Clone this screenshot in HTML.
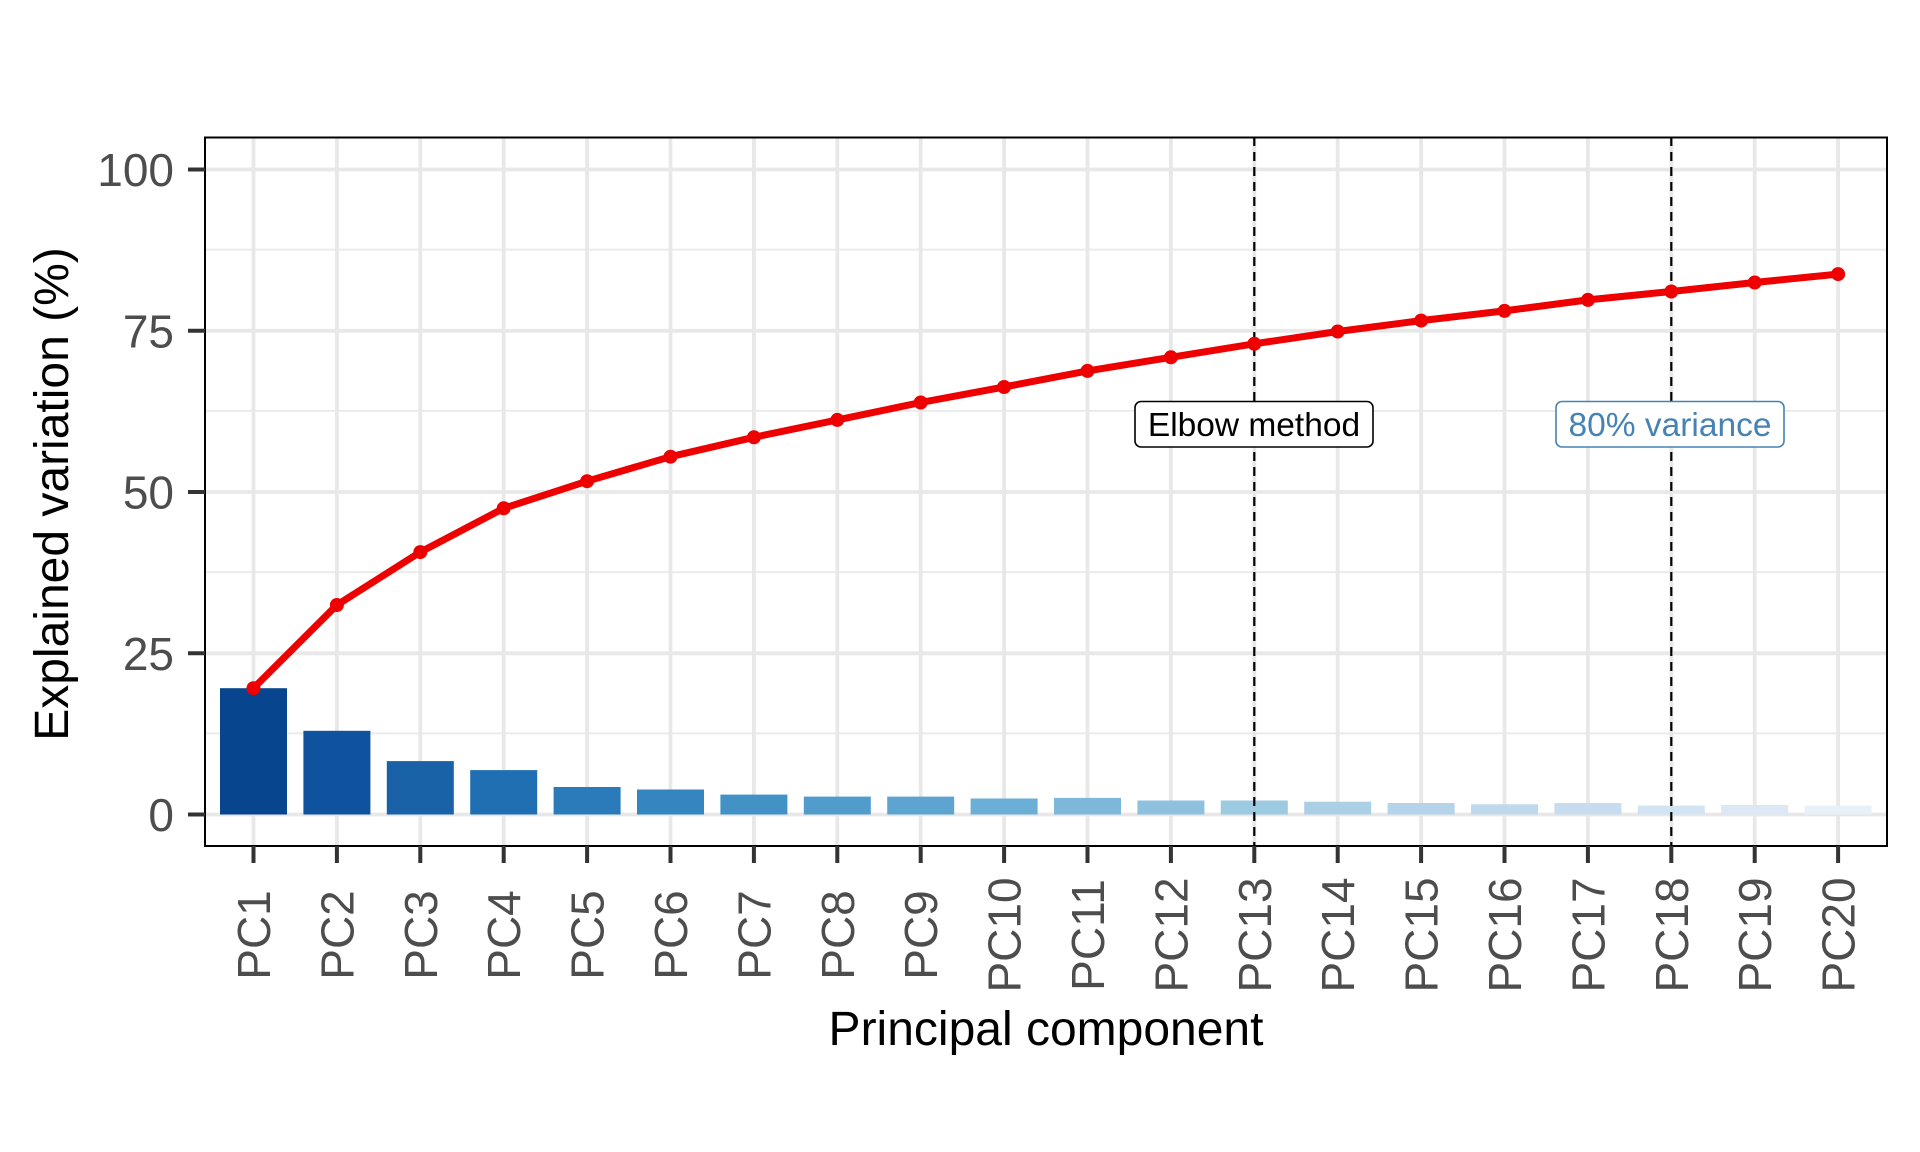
<!DOCTYPE html>
<html><head><meta charset="utf-8"><style>html,body{margin:0;padding:0;background:#fff}svg{display:block}</style></head><body>
<svg width="1920" height="1152" viewBox="0 0 1920 1152" xmlns="http://www.w3.org/2000/svg" font-family="Liberation Sans, Arial, sans-serif">
<rect width="1920" height="1152" fill="#fff"/>
<g stroke="#ebebeb" stroke-width="2">
<line x1="205" x2="1887" y1="733.4" y2="733.4"/><line x1="205" x2="1887" y1="572.1" y2="572.1"/><line x1="205" x2="1887" y1="410.9" y2="410.9"/><line x1="205" x2="1887" y1="249.6" y2="249.6"/>
</g>
<g stroke="#e8e8e8" stroke-width="3.8">
<line x1="205" x2="1887" y1="814.5" y2="814.5"/><line x1="205" x2="1887" y1="653.3" y2="653.3"/><line x1="205" x2="1887" y1="492" y2="492"/><line x1="205" x2="1887" y1="330.8" y2="330.8"/><line x1="205" x2="1887" y1="169.5" y2="169.5"/>
<line x1="253.5" x2="253.5" y1="137" y2="846"/><line x1="336.9" x2="336.9" y1="137" y2="846"/><line x1="420.3" x2="420.3" y1="137" y2="846"/><line x1="503.7" x2="503.7" y1="137" y2="846"/><line x1="587.1" x2="587.1" y1="137" y2="846"/><line x1="670.5" x2="670.5" y1="137" y2="846"/><line x1="753.9" x2="753.9" y1="137" y2="846"/><line x1="837.3" x2="837.3" y1="137" y2="846"/><line x1="920.7" x2="920.7" y1="137" y2="846"/><line x1="1004.1" x2="1004.1" y1="137" y2="846"/><line x1="1087.5" x2="1087.5" y1="137" y2="846"/><line x1="1170.9" x2="1170.9" y1="137" y2="846"/><line x1="1254.3" x2="1254.3" y1="137" y2="846"/><line x1="1337.7" x2="1337.7" y1="137" y2="846"/><line x1="1421.1" x2="1421.1" y1="137" y2="846"/><line x1="1504.5" x2="1504.5" y1="137" y2="846"/><line x1="1587.9" x2="1587.9" y1="137" y2="846"/><line x1="1671.3" x2="1671.3" y1="137" y2="846"/><line x1="1754.7" x2="1754.7" y1="137" y2="846"/><line x1="1838.1" x2="1838.1" y1="137" y2="846"/>
</g>
<g>
<rect x="220" y="688.2" width="67" height="126.3" fill="#08458f"/>
<rect x="303.4" y="730.8" width="67" height="83.7" fill="#0f529e"/>
<rect x="386.8" y="761.1" width="67" height="53.4" fill="#1a62a8"/>
<rect x="470.2" y="770.1" width="67" height="44.4" fill="#216fb3"/>
<rect x="553.6" y="787" width="67" height="27.5" fill="#2b7bba"/>
<rect x="637" y="789.5" width="67" height="25" fill="#3586c0"/>
<rect x="720.4" y="794.6" width="67" height="19.9" fill="#4292c6"/>
<rect x="803.8" y="796.6" width="67" height="17.9" fill="#519ccb"/>
<rect x="887.2" y="796.6" width="67" height="17.9" fill="#5da5d0"/>
<rect x="970.6" y="798.5" width="67" height="16" fill="#6baed6"/>
<rect x="1054" y="797.9" width="67" height="16.6" fill="#7db8da"/>
<rect x="1137.4" y="800.5" width="67" height="14" fill="#8dc1dd"/>
<rect x="1220.8" y="800.5" width="67" height="14" fill="#9ccae1"/>
<rect x="1304.2" y="801.7" width="67" height="12.8" fill="#abd0e6"/>
<rect x="1387.6" y="803" width="67" height="11.5" fill="#b5d4e9"/>
<rect x="1471" y="804.3" width="67" height="10.2" fill="#bfd8ed"/>
<rect x="1554.4" y="803" width="67" height="11.5" fill="#c8dcf0"/>
<rect x="1637.8" y="805.6" width="67" height="8.9" fill="#d2e3f3"/>
<rect x="1721.2" y="805" width="67" height="9.5" fill="#dde8f6"/>
<rect x="1804.6" y="805.6" width="67" height="8.9" fill="#e8f0f9"/>
</g>
<g stroke="#000" stroke-width="2.2" stroke-dasharray="9,6">
<line x1="1254.3" x2="1254.3" y1="137" y2="846"/><line x1="1671.3" x2="1671.3" y1="137" y2="846"/>
</g>
<polyline fill="none" stroke="#ee0000" stroke-width="7" stroke-linejoin="round" points="253.5,688.2 336.9,605 420.3,552.1 503.7,508.3 587.1,481.2 670.5,456.7 753.9,437.3 837.3,419.9 920.7,402.5 1004.1,387 1087.5,370.9 1170.9,357.3 1254.3,343.8 1337.7,331.5 1421.1,320.6 1504.5,310.9 1587.9,299.9 1671.3,291.5 1754.7,282.5 1838.1,274.1"/>
<g fill="#ee0000">
<circle cx="253.5" cy="688.2" r="7"/><circle cx="336.9" cy="605" r="7"/><circle cx="420.3" cy="552.1" r="7"/><circle cx="503.7" cy="508.3" r="7"/><circle cx="587.1" cy="481.2" r="7"/><circle cx="670.5" cy="456.7" r="7"/><circle cx="753.9" cy="437.3" r="7"/><circle cx="837.3" cy="419.9" r="7"/><circle cx="920.7" cy="402.5" r="7"/><circle cx="1004.1" cy="387" r="7"/><circle cx="1087.5" cy="370.9" r="7"/><circle cx="1170.9" cy="357.3" r="7"/><circle cx="1254.3" cy="343.8" r="7"/><circle cx="1337.7" cy="331.5" r="7"/><circle cx="1421.1" cy="320.6" r="7"/><circle cx="1504.5" cy="310.9" r="7"/><circle cx="1587.9" cy="299.9" r="7"/><circle cx="1671.3" cy="291.5" r="7"/><circle cx="1754.7" cy="282.5" r="7"/><circle cx="1838.1" cy="274.1" r="7"/>
</g>
<rect x="1135" y="401.5" width="238" height="45.5" rx="6" fill="#fff" stroke="#000" stroke-width="1.6"/>
<text x="1254" y="436" font-size="33.5" text-anchor="middle" fill="#000">Elbow method</text>
<rect x="1556" y="401.5" width="228" height="45.5" rx="6" fill="#fff" stroke="#4682b4" stroke-width="1.6"/>
<text x="1670" y="436" font-size="33.5" text-anchor="middle" fill="#4682b4">80% variance</text>
<rect x="205" y="137.5" width="1682" height="708.5" fill="none" stroke="#000" stroke-width="2"/>
<g stroke="#333" stroke-width="4">
<line x1="188" x2="205" y1="814.5" y2="814.5"/><line x1="188" x2="205" y1="653.3" y2="653.3"/><line x1="188" x2="205" y1="492" y2="492"/><line x1="188" x2="205" y1="330.8" y2="330.8"/><line x1="188" x2="205" y1="169.5" y2="169.5"/>
<line x1="253.5" x2="253.5" y1="846" y2="863"/><line x1="336.9" x2="336.9" y1="846" y2="863"/><line x1="420.3" x2="420.3" y1="846" y2="863"/><line x1="503.7" x2="503.7" y1="846" y2="863"/><line x1="587.1" x2="587.1" y1="846" y2="863"/><line x1="670.5" x2="670.5" y1="846" y2="863"/><line x1="753.9" x2="753.9" y1="846" y2="863"/><line x1="837.3" x2="837.3" y1="846" y2="863"/><line x1="920.7" x2="920.7" y1="846" y2="863"/><line x1="1004.1" x2="1004.1" y1="846" y2="863"/><line x1="1087.5" x2="1087.5" y1="846" y2="863"/><line x1="1170.9" x2="1170.9" y1="846" y2="863"/><line x1="1254.3" x2="1254.3" y1="846" y2="863"/><line x1="1337.7" x2="1337.7" y1="846" y2="863"/><line x1="1421.1" x2="1421.1" y1="846" y2="863"/><line x1="1504.5" x2="1504.5" y1="846" y2="863"/><line x1="1587.9" x2="1587.9" y1="846" y2="863"/><line x1="1671.3" x2="1671.3" y1="846" y2="863"/><line x1="1754.7" x2="1754.7" y1="846" y2="863"/><line x1="1838.1" x2="1838.1" y1="846" y2="863"/>
</g>
<g font-size="46" fill="#4d4d4d" text-anchor="end">
<text x="174" y="831">0</text><text x="174" y="670">25</text><text x="174" y="508.5">50</text><text x="174" y="347.5">75</text><text x="174" y="186">100</text>
</g>
<g font-size="46" fill="#4d4d4d" text-anchor="middle">
<text transform="translate(270,935) rotate(-90)">PC1</text>
<text transform="translate(353.4,935) rotate(-90)">PC2</text>
<text transform="translate(436.8,935) rotate(-90)">PC3</text>
<text transform="translate(520.2,935) rotate(-90)">PC4</text>
<text transform="translate(603.6,935) rotate(-90)">PC5</text>
<text transform="translate(687,935) rotate(-90)">PC6</text>
<text transform="translate(770.4,935) rotate(-90)">PC7</text>
<text transform="translate(853.8,935) rotate(-90)">PC8</text>
<text transform="translate(937.2,935) rotate(-90)">PC9</text>
<text transform="translate(1020.6,935) rotate(-90)">PC10</text>
<text transform="translate(1104,935) rotate(-90)">PC11</text>
<text transform="translate(1187.4,935) rotate(-90)">PC12</text>
<text transform="translate(1270.8,935) rotate(-90)">PC13</text>
<text transform="translate(1354.2,935) rotate(-90)">PC14</text>
<text transform="translate(1437.6,935) rotate(-90)">PC15</text>
<text transform="translate(1521,935) rotate(-90)">PC16</text>
<text transform="translate(1604.4,935) rotate(-90)">PC17</text>
<text transform="translate(1687.8,935) rotate(-90)">PC18</text>
<text transform="translate(1771.2,935) rotate(-90)">PC19</text>
<text transform="translate(1854.6,935) rotate(-90)">PC20</text>
</g>
<text x="1046" y="1045" font-size="48" text-anchor="middle" fill="#000">Principal component</text>
<text transform="translate(68,494) rotate(-90)" font-size="48" text-anchor="middle" fill="#000">Explained variation (%)</text>
</svg>
</body></html>
